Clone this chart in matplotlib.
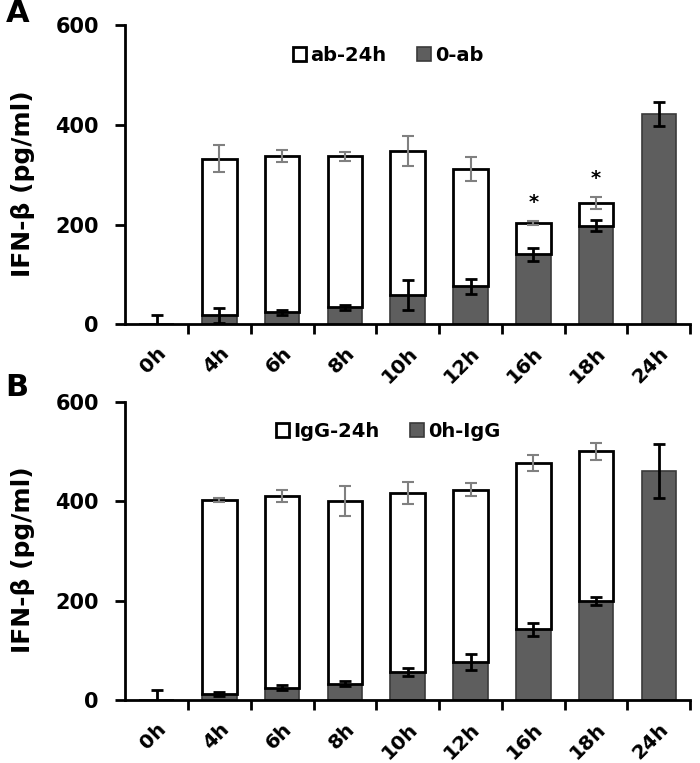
import matplotlib.pyplot as plt
import numpy as np

plt.rcParams['font.family'] = ['DejaVu Sans']
plt.rcParams['font.weight'] = 'bold'

czasy = ['0h', '4h', '6h', '8h', '10h', '12h', '16h', '18h', '24h']

# panel A: 0-ab (dolny) i suma ab-24h (gorny, skumulowany)
a_dol = [0, 18, 24, 34, 58, 76, 140, 198, 421]
a_dol_err = [18, 15, 5, 5, 30, 15, 14, 11, 24]
a_suma = [np.nan, 332, 338, 337, 348, 312, 204, 244, np.nan]
a_suma_err = [0, 27, 12, 9, 30, 24, 4, 12, 0]
a_gwiazdki = ['', '', '', '', '', '', '*', '*', '']

# panel B: 0h-IgG (dolny) i suma IgG-24h
b_dol = [0, 13, 25, 33, 57, 77, 142, 200, 460]
b_dol_err = [20, 4, 5, 5, 8, 16, 13, 8, 54]
b_suma = [np.nan, 403, 410, 400, 417, 423, 477, 500, np.nan]
b_suma_err = [0, 4, 12, 30, 22, 13, 16, 17, 0]

ciemny = '#5e5e5e'


def panel(ax, dol, dol_err, suma, suma_err, etykiety, litera, litera_y, gwiazdki=None):
    x = np.arange(len(czasy))
    dol = np.array(dol, dtype=float)
    suma = np.array(suma, dtype=float)
    gora = suma - dol
    szer = 0.55
    ax.bar(x, dol, szer, color=ciemny, edgecolor='#3a3a3a', lw=1.2, label=etykiety[1], zorder=2)
    ax.bar(x, gora, szer, bottom=dol, color='white', edgecolor='black', lw=2,
           label=etykiety[0], zorder=2)
    ax.errorbar(x, suma, yerr=suma_err, fmt='none', ecolor='#808080', elinewidth=1.5,
                capsize=4, capthick=1.5, zorder=3)
    ax.errorbar(x, dol, yerr=dol_err, fmt='none', ecolor='black', elinewidth=2,
                capsize=4, capthick=2, zorder=3)
    if gwiazdki:
        for i, g in enumerate(gwiazdki):
            if g:
                ax.text(x[i], suma[i] + suma_err[i] + 18, g, ha='center', va='bottom',
                        fontsize=14, fontweight='bold')
    ax.set_xlim(-0.5, len(czasy) - 0.5)
    ax.set_ylim(0, 600)
    ax.set_yticks([0, 200, 400, 600])
    ax.set_xticks(x)
    ax.set_xticklabels(czasy, rotation=45, ha='right', rotation_mode='anchor')
    ax.set_xticks(np.arange(0.5, len(czasy), 1), minor=True)
    ax.tick_params(axis='x', which='major', length=0, pad=14, labelsize=14.5)
    ax.tick_params(axis='x', which='minor', length=7, width=2, direction='out')
    ax.tick_params(axis='y', length=7, width=2, direction='out', labelsize=15, pad=12)
    for s in ['top', 'right']:
        ax.spines[s].set_visible(False)
    for s in ['left', 'bottom']:
        ax.spines[s].set_linewidth(2)
    ax.set_ylabel('IFN-β (pg/ml)', fontsize=18, fontweight='bold')
    ax.yaxis.set_label_coords(-0.16, 0.47)
    h, l = ax.get_legend_handles_labels()
    ax.legend(h[::-1], l[::-1], loc='center', bbox_to_anchor=(0.465, 0.9), ncol=2,
              frameon=False, fontsize=14, handlelength=0.7, handleheight=0.7,
              handletextpad=0.2, columnspacing=1.6)
    ax.text(-0.212, litera_y, litera, transform=ax.transAxes, fontsize=22, fontweight='bold',
            ha='left', va='center')


fig = plt.figure(figsize=(7, 7.63), dpi=100)
axA = fig.add_axes([0.179, 0.575, 0.807, 0.392])
axB = fig.add_axes([0.179, 0.0826, 0.807, 0.391])
panel(axA, a_dol, a_dol_err, a_suma, a_suma_err, ['ab-24h', '0-ab'], 'A', 1.038, a_gwiazdki)
panel(axB, b_dol, b_dol_err, b_suma, b_suma_err, ['IgG-24h', '0h-IgG'], 'B', 1.049)
fig.savefig('out.png', dpi=100)
